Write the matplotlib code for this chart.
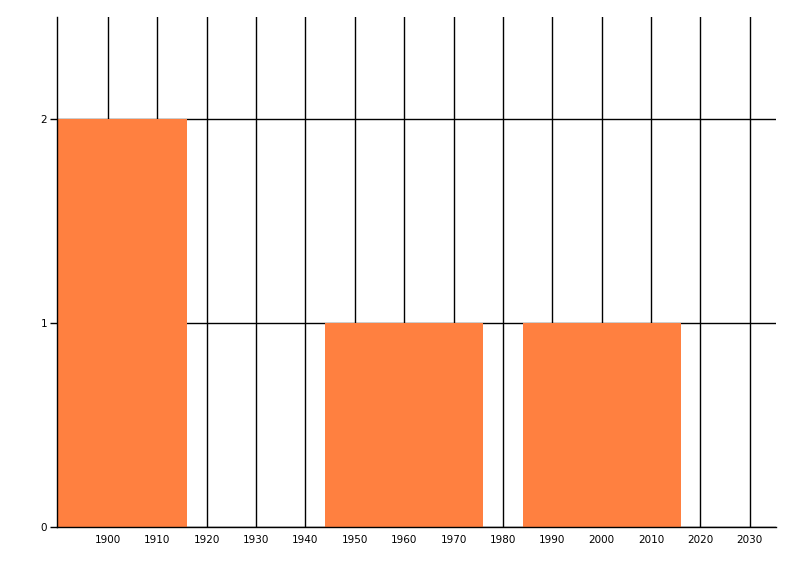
import matplotlib.pyplot as plt

# histogram-like bars: decade centers and counts
years = [1900, 1960, 2000]
counts = [2, 1, 1]
bar_width = 32

x_ticks = list(range(1900, 2031, 10))
y_ticks = [0, 1, 2]

fig = plt.figure(figsize=(8, 5.76), dpi=100)
ax = fig.add_axes([57/800, 1 - 527/576, (775.5 - 57)/800, (527 - 17)/576])

ax.set_axisbelow(True)
ax.grid(True, color='black', linewidth=1)
ax.bar(years, counts, width=bar_width, color='#FF8040', zorder=2)

ax.set_xlim(1889.7, 2035.2)
ax.set_ylim(0, 2.5)
ax.set_xticks(x_ticks)
ax.set_yticks(y_ticks)

for side in ['top', 'right']:
    ax.spines[side].set_visible(False)
for side in ['left', 'bottom']:
    ax.spines[side].set_linewidth(1)
    ax.spines[side].set_zorder(3)

ax.tick_params(axis='x', length=0, labelsize=7.5, pad=6)
ax.tick_params(axis='y', length=5, width=1, labelsize=7.5, pad=2)

fig.savefig('out.png', dpi=100)
